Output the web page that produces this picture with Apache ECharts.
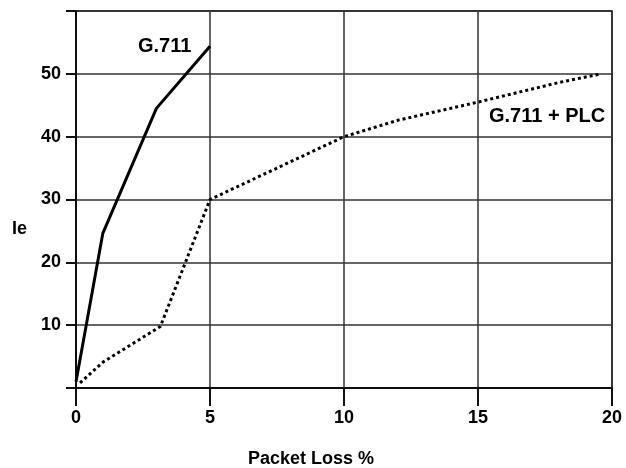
<!DOCTYPE html>
<html>
<head>
<meta charset="utf-8">
<script src="https://cdn.jsdelivr.net/npm/echarts@6/dist/echarts.min.js"></script>
<style>html,body{margin:0;padding:0;background:#fff}#c{width:626px;height:468px}</style>
</head>
<body>
<div id="c"></div>
<script>
// Data
var g711X = [0, 1, 3, 5];
var g711Y = [1, 24.6, 44.5, 54.4];
var plcX = [0.15, 1, 3.15, 5, 10, 12, 15, 18, 19.6];
var plcY = [0.8, 4.1, 9.8, 30, 40, 42.6, 45.5, 48.6, 50];
var xTicks = [0, 5, 10, 15, 20];
var yTicks = [10, 20, 30, 40, 50];
var seriesNames = ['G.711', 'G.711 + PLC'];
var xTitle = 'Packet Loss %';
var yTitle = 'Ie';

function pairs(xs, ys) { return xs.map(function (x, i) { return [x, ys[i]]; }); }

var FONT = '"Liberation Sans", Arial, sans-serif';
var chart = echarts.init(document.getElementById('c'), null, { renderer: 'canvas' });
chart.setOption({
  animation: false,
  backgroundColor: '#fff',
  grid: { left: 76, right: 14, top: 11, bottom: 80, show: true, borderColor: '#000', borderWidth: 1.5, backgroundColor: 'transparent' },
  xAxis: {
    type: 'value', min: 0, max: 20, interval: 5, position: 'bottom',
    axisLine: { show: true, onZero: false, lineStyle: { color: '#000', width: 1.5 } },
    axisTick: { show: true, inside: false, length: 18, lineStyle: { color: '#111', width: 2 } },
    axisLabel: { margin: 21, color: '#000', fontSize: 18, fontWeight: 'bold', fontFamily: FONT },
    splitLine: { show: true, lineStyle: { color: '#333', width: 1.5 } }
  },
  yAxis: {
    type: 'value', min: 0, max: 60, interval: 10, position: 'left',
    axisLine: { show: true, onZero: false, lineStyle: { color: '#000', width: 1.5 } },
    axisTick: { show: true, inside: false, length: 10, lineStyle: { color: '#111', width: 2 } },
    axisLabel: { margin: 15, color: '#000', fontSize: 18, fontWeight: 'bold', fontFamily: FONT, customValues: yTicks, padding: [0, 0, 5, 0] },
    splitLine: { show: true, lineStyle: { color: '#333', width: 1.5 } }
  },
  series: [
    {
      name: seriesNames[0], type: 'line', data: pairs(g711X, g711Y), symbol: 'none',
      lineStyle: { color: '#000', width: 3, type: 'solid' }
    },
    {
      name: seriesNames[1], type: 'line', data: pairs(plcX, plcY), symbol: 'none',
      lineStyle: { color: '#000', width: 3, type: [3, 3] }
    }
  ],
  graphic: [
    { type: 'text', left: 138, top: 36, style: { text: seriesNames[0], fill: '#000', font: 'bold 20px ' + FONT } },
    { type: 'text', left: 489, top: 106, style: { text: seriesNames[1], fill: '#000', font: 'bold 20px ' + FONT } },
    { type: 'text', left: 248, top: 450, style: { text: xTitle, fill: '#000', font: 'bold 18px ' + FONT } },
    { type: 'text', left: 12, top: 220, style: { text: yTitle, fill: '#000', font: 'bold 18px ' + FONT } }
  ]
});
</script>
</body>
</html>
